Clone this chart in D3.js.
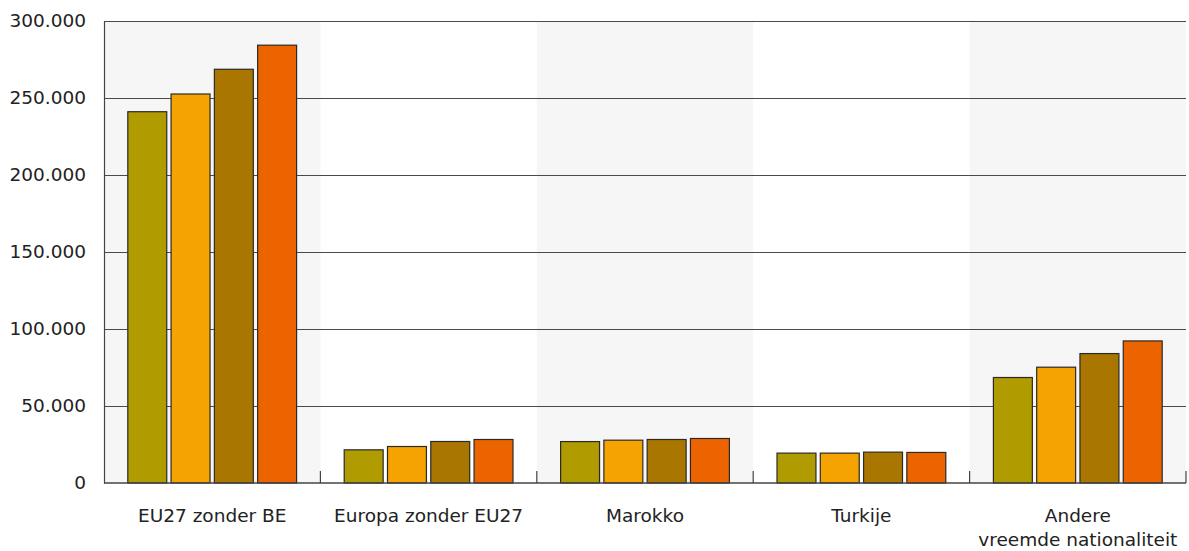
<!DOCTYPE html>
<html>
<head>
<meta charset="utf-8">
<script src="https://cdn.jsdelivr.net/npm/d3@7"></script>
<style>
  body { margin: 0; background: #fff; }
  svg text { font-family: "DejaVu Sans", sans-serif; fill: #222; }
</style>
</head>
<body>
<svg id="chart" width="1189" height="551"></svg>
<script>
// categories and series (no legend in the source, so series keys are plain)
const categories = ['EU27 zonder BE', 'Europa zonder EU27', 'Marokko', 'Turkije', 'Andere|vreemde nationaliteit']
const series = ['s1', 's2', 's3', 's4']
const colors = ['#b09b00', '#f4a300', '#a97700', '#ec6400']

const s1 = [241100, 21550, 26900, 19400, 68500]
const s2 = [252600, 23700, 27800, 19400, 75200]
const s3 = [268650, 26950, 28250, 20050, 84050]
const s4 = [284300, 28250, 28900, 19850, 92250]
const values = [s1, s2, s3, s4]

const yTicks = [0, 50000, 100000, 150000, 200000, 250000, 300000]

const margin = {top: 21, right: 3, bottom: 68, left: 104}
const W = 1189, H = 551

const svg = d3.select('#chart')
const g = svg.append('g').attr('transform', `translate(${margin.left},${margin.top})`)
const iw = W - margin.left - margin.right
const ih = H - margin.top - margin.bottom

const x = d3.scaleBand().domain(categories).range([0, iw]).padding(0)
const xi = d3.scaleBand().domain(series).range([0, x.bandwidth()])
  .paddingInner(0.1).paddingOuter(0.55)
const y = d3.scaleLinear().domain([0, 300000]).range([ih, 0])

const fmt = v => d3.format(',')(v).replace(/,/g, '.')

// alternating band backgrounds
g.selectAll('rect.band')
  .data(categories.filter((c, i) => i % 2 === 0))
  .join('rect')
  .attr('class', 'band')
  .attr('x', d => x(d))
  .attr('y', 0)
  .attr('width', x.bandwidth())
  .attr('height', ih)
  .attr('fill', '#f6f6f6')

// gridlines
g.selectAll('line.grid')
  .data(yTicks.filter(v => v > 0))
  .join('line')
  .attr('class', 'grid')
  .attr('x1', 0).attr('x2', iw)
  .attr('y1', d => Math.round(y(d)) + 0.5)
  .attr('y2', d => Math.round(y(d)) + 0.5)
  .attr('stroke', '#4a4a4a')
  .attr('stroke-width', 1)

// bars
const groups = g.selectAll('g.cat')
  .data(categories)
  .join('g')
  .attr('class', 'cat')
  .attr('transform', d => `translate(${x(d)},0)`)

groups.selectAll('rect')
  .data((c, ci) => series.map((s, si) => ({s, si, v: values[si][ci]})))
  .join('rect')
  .attr('x', d => xi(d.s))
  .attr('y', d => y(d.v))
  .attr('width', xi.bandwidth())
  .attr('height', d => ih - y(d.v))
  .attr('fill', d => colors[d.si])
  .attr('stroke', '#2a2a2a')
  .attr('stroke-width', 1.2)

// y axis
const yAxis = g.append('g')
  .call(d3.axisLeft(y).tickValues(yTicks).tickFormat(fmt).tickSize(0).tickPadding(18))
yAxis.select('.domain').attr('stroke', '#444').attr('stroke-width', 1.2)
yAxis.selectAll('text').style('font-size', '18.5px').attr('fill', '#222')

// x axis: baseline + ticks at band edges pointing up
g.append('line')
  .attr('x1', 0).attr('x2', iw)
  .attr('y1', ih).attr('y2', ih)
  .attr('stroke', '#444').attr('stroke-width', 1.5)

const edges = categories.map(c => x(c) + x.bandwidth())
g.selectAll('line.xt')
  .data(edges)
  .join('line')
  .attr('class', 'xt')
  .attr('x1', d => d).attr('x2', d => d)
  .attr('y1', ih).attr('y2', ih - 12)
  .attr('stroke', '#444').attr('stroke-width', 1.2)

// category labels
const lbl = g.selectAll('text.cat')
  .data(categories)
  .join('text')
  .attr('class', 'cat')
  .attr('text-anchor', 'middle')
  .attr('x', d => x(d) + x.bandwidth() / 2)
  .attr('y', ih + 39)
  .style('font-size', '18.5px')

lbl.selectAll('tspan')
  .data(d => d.split('|'))
  .join('tspan')
  .attr('x', function() { return d3.select(this.parentNode).attr('x') })
  .attr('dy', (d, i) => i === 0 ? 0 : 24)
  .text(d => d)
</script>
</body>
</html>
